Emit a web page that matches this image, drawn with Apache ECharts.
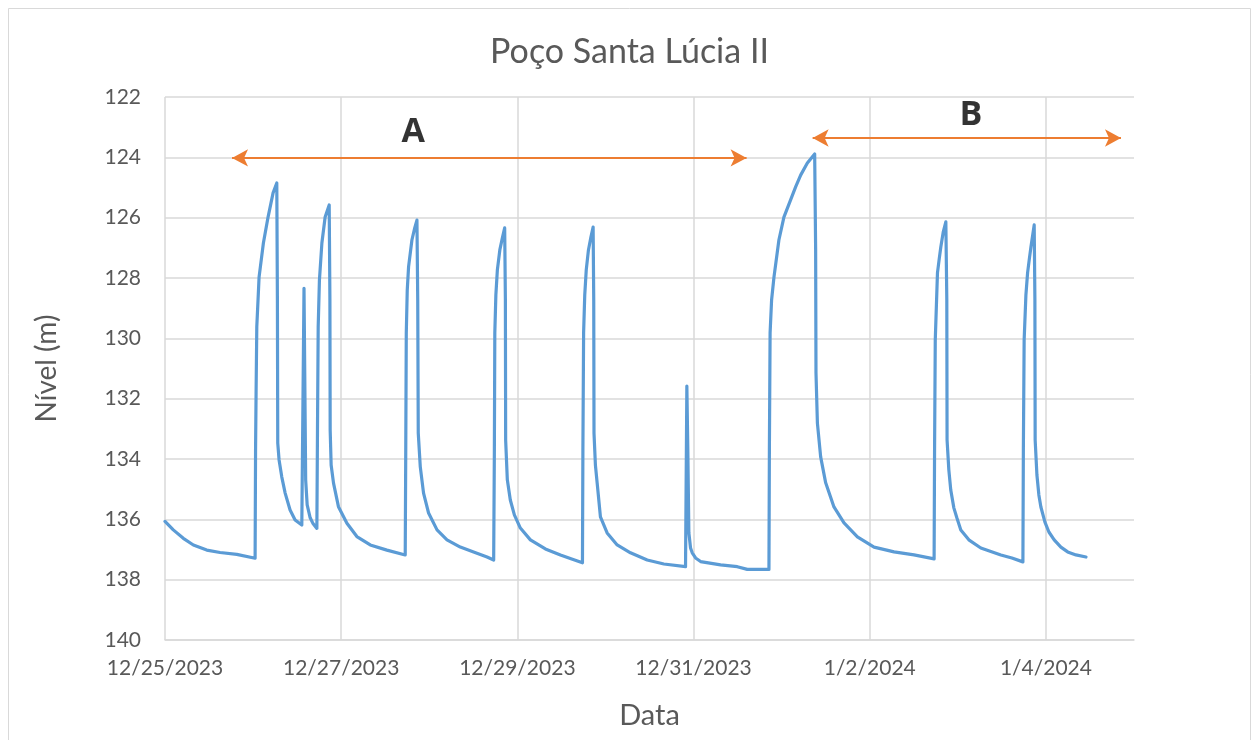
<!DOCTYPE html>
<html>
<head>
<meta charset="utf-8">
<script src="https://cdn.jsdelivr.net/npm/echarts@6/dist/echarts.min.js"></script>
<style>html,body{margin:0;padding:0;background:#fff;}#c{width:1259px;height:740px;}</style>
</head>
<body>
<div id="c"></div>
<script>
// x: days since 12/25/2023 ; y: level (m)
const days = [
0.000,0.094,0.208,0.322,0.474,0.625,0.815,1.023,
1.028,1.034,1.042,1.068,1.117,1.170,1.227,1.269,
1.276,1.280,1.295,1.326,1.364,1.420,1.477,1.553,
1.578,1.591,1.597,1.614,1.648,1.682,1.724,
1.731,1.739,1.753,1.781,1.818,1.864,
1.872,1.875,1.886,1.913,1.969,2.065,2.178,2.330,2.519,2.727,
2.733,2.739,2.750,2.765,2.803,2.835,2.860,
2.869,2.875,2.898,2.935,2.992,3.088,3.201,3.352,3.503,3.656,3.731,
3.739,3.744,3.756,3.773,3.801,3.830,3.856,
3.864,3.867,3.886,3.920,3.966,4.034,4.148,4.318,4.489,4.625,4.739,
4.744,4.752,4.765,4.782,4.807,4.835,4.860,
4.867,4.870,4.886,4.906,4.943,5.019,5.133,5.284,5.474,5.663,5.909,
5.924,5.935,5.947,5.966,5.985,6.023,6.080,6.307,6.497,6.610,6.856,
6.861,6.869,6.886,6.913,6.969,7.026,7.102,7.159,7.216,7.292,7.375,
7.386,7.390,7.406,7.443,7.500,7.594,7.708,7.860,8.049,8.276,8.503,8.731,
8.736,8.744,8.769,8.790,8.807,8.835,8.864,
8.875,8.878,8.898,8.920,8.955,8.989,9.034,9.125,9.261,9.489,9.614,9.739,
9.744,9.753,9.773,9.792,9.813,9.830,9.867,
9.875,9.878,9.898,9.920,9.943,9.989,10.034,10.094,10.170,10.247,10.341,10.455
];
const levels = [
136.07,136.35,136.63,136.85,137.02,137.10,137.16,137.29,
133.70,131.80,129.62,127.97,126.84,125.98,125.18,124.85,
128.73,133.47,134.03,134.60,135.13,135.69,136.02,136.19,
128.34,132.70,134.70,135.52,135.95,136.15,136.30,
133.04,129.62,128.07,126.84,125.98,125.58,
128.73,133.04,134.20,134.80,135.58,136.13,136.57,136.85,137.02,137.18,
133.70,129.82,128.40,127.63,126.74,126.34,126.08,
128.73,133.14,134.26,135.13,135.79,136.35,136.68,136.92,137.08,137.25,137.35,
133.70,129.82,128.56,127.73,127.07,126.67,126.34,
128.73,133.37,134.69,135.36,135.85,136.29,136.68,136.98,137.18,137.32,137.44,
133.70,129.82,128.56,127.73,127.07,126.64,126.31,
128.73,133.14,134.20,134.80,135.92,136.45,136.85,137.11,137.35,137.48,137.57,
131.58,133.70,136.45,136.95,137.11,137.28,137.40,137.51,137.57,137.66,137.66,
133.70,129.82,128.73,127.97,126.74,125.98,125.41,124.98,124.59,124.19,123.89,
127.07,131.15,132.81,133.93,134.79,135.59,136.12,136.58,136.92,137.08,137.18,137.31,
133.70,130.05,127.83,127.34,126.97,126.47,126.14,
128.73,133.37,134.36,135.03,135.62,135.95,136.35,136.68,136.95,137.18,137.28,137.41,
133.70,130.05,128.56,127.83,127.34,126.97,126.24,
128.73,133.37,134.53,135.19,135.59,136.09,136.42,136.68,136.92,137.08,137.18,137.25
];
const xTickLabels = ['12/25/2023','12/27/2023','12/29/2023','12/31/2023','1/2/2024','1/4/2024'];
const yTicks = [122,124,126,128,130,132,134,136,138,140];
// annotation arrows
const arrowNames = ['A','B'];
const arrowStart = [0.761, 7.352];
const arrowEnd = [6.602, 10.852];
const arrowLevel = [124.02, 123.36];
const labelX = [2.818, 9.148];
const labelY = [123.16, 122.62];

const chart = echarts.init(document.getElementById('c'), null, {renderer:'canvas'});
const FONT = 'Lato, "Open Sans", sans-serif';
const seriesData = days.map((d,i)=>[d, levels[i]]);
const option = {
  animation:false,
  backgroundColor:'#fff',
  title:{text:'Poço Santa Lúcia II', left:'center', top:30,
    textStyle:{fontFamily:FONT, fontSize:34, fontWeight:'normal', color:'#595959'}},
  graphic:[{type:'rect', shape:{x:8.5,y:8.5,width:1242,height:740}, style:{fill:'none', stroke:'#D9D9D9', lineWidth:1}}],
  grid:{left:165, right:125, top:97, bottom:100, containLabel:false},
  xAxis:{type:'value', min:0, max:11, interval:2,
    name:'Data', nameLocation:'middle', nameGap:61,
    nameTextStyle:{fontFamily:FONT, fontSize:29, color:'#595959'},
    axisLine:{show:true, onZero:false, lineStyle:{color:'#D9D9D9', width:1.5}},
    axisTick:{show:false},
    axisLabel:{showMaxLabel:false, margin:18, fontFamily:FONT, fontSize:21, color:'#595959',
      formatter:(v)=>{const i=Math.round(v/2); return (Math.abs(v-2*i)<1e-6 && xTickLabels[i])?xTickLabels[i]:'';}},
    splitLine:{show:true, showMaxLine:false, lineStyle:{color:'#D9D9D9', width:1.5}}
  },
  yAxis:{type:'value', inverse:true, min:yTicks[0], max:yTicks[yTicks.length-1], interval:2,
    name:'Nível (m)', nameLocation:'middle', nameGap:104, nameRotate:90,
    nameTextStyle:{fontFamily:FONT, fontSize:28, color:'#595959'},
    axisLine:{show:false}, axisTick:{show:false},
    axisLabel:{margin:24, fontFamily:FONT, fontSize:21, color:'#595959'},
    splitLine:{show:true, lineStyle:{color:'#D9D9D9', width:1.5}}
  },
  series:[
    {type:'line', data:seriesData, showSymbol:false, smooth:false,
     lineStyle:{color:'#5B9BD5', width:3.2, join:'round', cap:'round'}, z:3,
     markLine:{silent:true, symbol:['arrow','arrow'], symbolSize:[13,16],
       lineStyle:{color:'#ED7D31', width:2, type:'solid'}, label:{show:false},
       data: arrowNames.map((n,i)=>[{coord:[arrowStart[i], arrowLevel[i]]},{coord:[arrowEnd[i], arrowLevel[i]]}])
     }},
    {type:'scatter', data: arrowNames.map((n,i)=>({value:[labelX[i], labelY[i]], name:n})),
     symbolSize:0, z:4,
     label:{show:true, position:'inside', formatter:(p)=>p.name, fontFamily:'"Open Sans", sans-serif', fontWeight:'bold', fontSize:34, color:'#000'}}
  ]
};
chart.setOption(option);
</script>
</body>
</html>
